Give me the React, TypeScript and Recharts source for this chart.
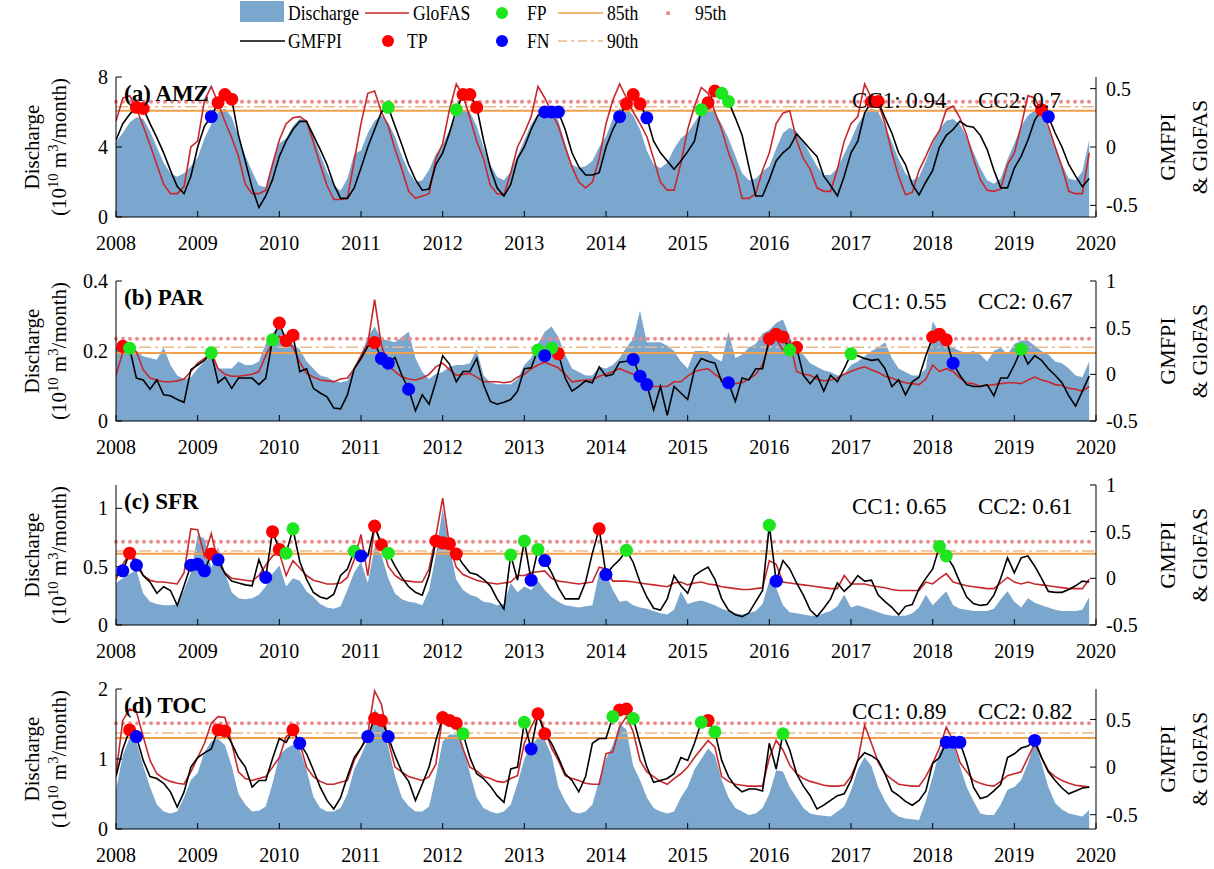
import React from 'react';
import { ComposedChart, Area, Line, Scatter, XAxis, YAxis, ReferenceLine } from 'recharts';

const YEARS = [2008, 2009, 2010, 2011, 2012, 2013, 2014, 2015, 2016, 2017, 2018, 2019, 2020];

// (a) AMZ, monthly 2008-01 .. 2019-12
const amzDischarge = [
  4.3, 4.8, 5.4, 5.7, 5.6, 4.9, 4.0, 3.1, 2.5, 2.3, 2.5, 2.9,
  3.4, 4.5, 5.3, 6.0, 6.2, 5.7, 4.6, 3.5, 2.6, 1.8, 1.7, 3.2,
  4.2, 4.5, 5.2, 5.6, 5.5, 4.6, 3.6, 2.6, 1.8, 1.5, 2.2, 3.6,
  3.8, 4.8, 5.5, 5.8, 5.4, 4.6, 3.5, 2.6, 2.0, 2.1, 2.7, 3.6,
  4.1, 5.0, 5.8, 6.1, 6.0, 5.2, 4.0, 3.0, 2.3, 2.1, 2.6, 3.5,
  4.4, 5.3, 5.9, 6.1, 6.1, 5.5, 4.2, 3.0, 2.8, 2.9, 3.2, 4.0,
  4.6, 5.6, 6.2, 6.2, 5.8, 5.0, 3.8, 3.0, 2.8, 3.1, 3.9, 4.5,
  4.8, 5.4, 6.0, 6.3, 6.0, 5.3, 4.5, 3.5, 2.5, 2.1, 2.2, 2.6,
  2.9, 3.9, 4.8, 5.1, 4.9, 4.3, 3.6, 2.9, 2.4, 2.4, 2.8, 3.6,
  4.4, 5.3, 5.9, 6.2, 6.0, 5.2, 4.3, 3.3, 2.5, 2.1, 2.3, 3.2,
  4.2, 5.0, 5.5, 5.6, 5.3, 4.6, 3.7, 2.8, 2.1, 1.9, 2.2, 3.3,
  4.2, 5.2, 5.8, 6.1, 5.9, 5.1, 4.0, 3.0, 2.2, 2.1, 2.6, 4.4,
];
const amzGmfpi = [
  0.06, 0.2, 0.28, 0.34, 0.33, 0.2, 0.08, -0.05, -0.2, -0.34, -0.4, -0.25,
  0.0, 0.18, 0.26, 0.38, 0.45, 0.41, 0.1, -0.12, -0.35, -0.52, -0.42, -0.28,
  -0.08, 0.05, 0.15, 0.22, 0.22, 0.1, -0.02, -0.15, -0.32, -0.44, -0.44, -0.35,
  -0.18, 0.0, 0.15, 0.3, 0.34, 0.18, 0.02, -0.15, -0.28, -0.37, -0.36, -0.15,
  -0.05, 0.12, 0.32, 0.45, 0.45, 0.34, 0.06, -0.18, -0.35, -0.42, -0.32, -0.1,
  0.0, 0.15, 0.27, 0.3, 0.3, 0.3, 0.15, -0.05, -0.17, -0.24, -0.24, -0.22,
  0.0, 0.15, 0.26, 0.37, 0.45, 0.37, 0.25, 0.05, -0.05, -0.12, -0.19, -0.12,
  -0.04, 0.05, 0.32, 0.38, 0.48, 0.46, 0.39, 0.25, 0.1, -0.17, -0.42, -0.42,
  -0.28, -0.12, -0.05, 0.0, 0.11, 0.05, -0.02, -0.08, -0.25, -0.33, -0.42, -0.25,
  -0.05, 0.05, 0.29, 0.39, 0.39, 0.25, 0.12, -0.05, -0.15, -0.32, -0.41, -0.3,
  -0.2, 0.0, 0.1, 0.15, 0.22, 0.18, 0.17, 0.1, -0.02, -0.2, -0.35, -0.35,
  -0.18, -0.08, 0.06, 0.23, 0.32, 0.26, 0.12, 0.0, -0.15, -0.25, -0.34, -0.27,
];
const amzGlofas = [
  0.22, 0.42, 0.44, 0.33, 0.18, 0.02, -0.15, -0.32, -0.4, -0.4, -0.34, 0.0,
  0.05, 0.4, 0.52, 0.38, 0.22, 0.08, -0.08, -0.32, -0.4, -0.4, -0.37, -0.15,
  0.06, 0.2, 0.25, 0.26, 0.22, 0.04, -0.15, -0.33, -0.45, -0.45, -0.44, -0.12,
  0.2, 0.46, 0.48, 0.3, 0.18, -0.02, -0.19, -0.38, -0.44, -0.42, -0.4, -0.1,
  0.03, 0.32, 0.54, 0.44, 0.25, 0.05, -0.1, -0.33, -0.4, -0.41, -0.22, 0.0,
  0.12, 0.26, 0.52, 0.42, 0.3, 0.18, 0.0, -0.17, -0.3, -0.35, -0.3, -0.1,
  0.2, 0.4, 0.54, 0.42, 0.3, 0.2, 0.09, -0.1, -0.3, -0.37, -0.37, -0.14,
  0.15, 0.35, 0.51, 0.46, 0.3, 0.15, -0.05, -0.2, -0.44, -0.44, -0.4, -0.2,
  -0.05, 0.2, 0.29, 0.31, 0.06, -0.1, -0.19, -0.35, -0.38, -0.38, -0.19, 0.05,
  0.2, 0.26, 0.54, 0.42, 0.38, 0.2, -0.05, -0.25, -0.41, -0.39, -0.2, -0.08,
  0.05, 0.14, 0.32, 0.35, 0.25, 0.1, -0.1, -0.28, -0.37, -0.38, -0.36, -0.15,
  -0.05, 0.18, 0.44, 0.42, 0.3, 0.18, 0.0, -0.17, -0.38, -0.4, -0.4, -0.05,
];
const amzTP = [3, 4, 15, 16, 17, 51, 52, 53, 75, 76, 77, 87, 88, 111, 112, 136];
const amzFP = [40, 50, 86, 89, 90];
const amzFN = [14, 63, 64, 65, 74, 78, 137];
const amzThresholds = [6.07, 6.3, 6.59];

// (b) PAR
const parDischarge = [
  0.19, 0.22, 0.21, 0.2, 0.185, 0.18, 0.175, 0.21, 0.16, 0.13, 0.12, 0.125,
  0.15, 0.17, 0.185, 0.15, 0.15, 0.15, 0.17, 0.16, 0.16, 0.17, 0.22, 0.25,
  0.275, 0.24, 0.22, 0.205, 0.17, 0.15, 0.13, 0.125, 0.115, 0.11, 0.115, 0.15,
  0.19, 0.24, 0.27, 0.235, 0.23, 0.225, 0.24, 0.255, 0.18, 0.14, 0.12, 0.135,
  0.14, 0.155, 0.16, 0.16, 0.165, 0.205, 0.13, 0.11, 0.105, 0.105, 0.105, 0.12,
  0.16, 0.18, 0.22, 0.255, 0.27, 0.24, 0.19, 0.15, 0.14, 0.13, 0.13, 0.155,
  0.15, 0.16, 0.18, 0.21, 0.235, 0.315, 0.225, 0.225, 0.225, 0.215, 0.2, 0.17,
  0.15, 0.2, 0.2, 0.2, 0.18, 0.17, 0.255, 0.18, 0.19, 0.21, 0.22, 0.25,
  0.26, 0.28, 0.29, 0.24, 0.2, 0.19, 0.165, 0.155, 0.145, 0.14, 0.13, 0.135,
  0.16, 0.17, 0.185, 0.2, 0.21, 0.225, 0.18, 0.15, 0.14, 0.13, 0.13, 0.15,
  0.285, 0.25, 0.22, 0.21, 0.2, 0.195, 0.2, 0.19, 0.17, 0.2, 0.21, 0.19,
  0.22, 0.23, 0.23, 0.215, 0.2, 0.19, 0.17, 0.165, 0.15, 0.13, 0.125, 0.17,
];
const parGmfpi = [
  0.27, 0.3, 0.28, -0.04, -0.06, -0.16, -0.06, -0.22, -0.23, -0.27, -0.3, 0.05,
  0.1, 0.15, 0.23, -0.09, -0.03, -0.15, -0.04, -0.04, -0.04, -0.11, -0.04, 0.37,
  0.55, 0.36, 0.42, 0.03, 0.06, -0.15, -0.2, -0.24, -0.36, -0.37, -0.22, 0.06,
  0.17, 0.3, 0.34, 0.17, 0.12, 0.18, -0.01, -0.16, -0.39, -0.22, -0.32, -0.08,
  0.2, 0.11, -0.08, 0.03, 0.03, 0.17, -0.11, -0.29, -0.32, -0.3, -0.27, -0.18,
  0.06, 0.07, 0.26, 0.2, 0.28, 0.22, -0.04, -0.18, -0.13, -0.07, -0.09, 0.08,
  -0.02, 0.0, 0.13, 0.14, 0.16, -0.02, -0.11, -0.38, -0.13, -0.44, -0.13, -0.2,
  -0.27, 0.05, 0.17, 0.14, 0.12, -0.08, -0.09, -0.29, -0.04, -0.06, 0.06, 0.06,
  0.38, 0.43, 0.4, 0.26, 0.29, -0.01, -0.1, -0.01, -0.18, -0.01, -0.08, 0.06,
  0.22, 0.2, 0.17, 0.15, 0.16, 0.06, -0.13, -0.06, -0.22, -0.08, -0.03, 0.2,
  0.4, 0.43, 0.37, 0.12, -0.01, -0.11, -0.13, -0.13, -0.11, -0.23, -0.04, -0.04,
  0.1, 0.27, 0.11, 0.2, 0.15, 0.06, -0.01, -0.09, -0.23, -0.34, -0.18, -0.02,
];
const parGlofas = [
  -0.01, 0.24, 0.31, 0.24, 0.05, -0.04, -0.06, -0.08, -0.08, -0.07, -0.05, 0.03,
  0.12, 0.17, 0.24, 0.06, 0.0, -0.02, -0.02, -0.01, 0.0, 0.03, 0.2, 0.34,
  0.41, 0.35, 0.29, 0.13, 0.01, -0.03, -0.06, -0.07, -0.08, -0.05, -0.04, 0.06,
  0.2, 0.33, 0.8, 0.31, 0.1, 0.03, -0.03, -0.05, -0.06, -0.04, 0.0, 0.08,
  0.12, 0.05, -0.01, 0.0, 0.01, -0.03, -0.08, -0.08, -0.08, -0.09, -0.08, -0.03,
  0.0, 0.06, 0.1, 0.13, 0.1, 0.07, 0.0, -0.08, -0.07, -0.06, -0.06, -0.02,
  0.0, 0.03, 0.06, 0.03, 0.0, -0.04, -0.11, -0.13, -0.13, -0.13, -0.08, -0.08,
  -0.02, 0.03, 0.05, 0.06, 0.0, -0.05, -0.09, -0.1, -0.09, -0.05, 0.0, 0.1,
  0.34, 0.38, 0.26, 0.36, 0.03, 0.0, -0.01, -0.05, -0.07, -0.06, -0.04, 0.0,
  0.03, 0.06, 0.08, 0.05, 0.02, -0.02, -0.04, -0.07, -0.09, -0.1, -0.11, -0.05,
  0.1, 0.03, 0.06, 0.03, -0.04, -0.09, -0.1, -0.13, -0.12, -0.11, -0.1, -0.09,
  -0.09, -0.1, -0.06, -0.03, -0.06, -0.08, -0.11, -0.12, -0.15, -0.16, -0.18, -0.13,
];
const parTP = [1, 24, 25, 26, 38, 65, 96, 97, 98, 100, 120, 121, 122];
const parFP = [2, 14, 23, 62, 64, 99, 108, 133];
const parFN = [39, 40, 43, 63, 76, 77, 78, 90, 123];
const parThresholds = [0.194, 0.211, 0.235];

// (c) SFR
const sfrDischarge = [
  0.36, 0.4, 0.44, 0.47, 0.27, 0.2, 0.18, 0.17, 0.17, 0.18, 0.3, 0.45,
  0.77, 0.74, 0.49, 0.67, 0.45, 0.28, 0.23, 0.22, 0.23, 0.26, 0.33, 0.44,
  0.51, 0.33, 0.4, 0.38, 0.29, 0.24, 0.18, 0.15, 0.14, 0.16, 0.3, 0.45,
  0.54, 0.36, 0.67, 0.6, 0.4, 0.27, 0.22, 0.2, 0.19, 0.17, 0.3, 0.6,
  1.0, 0.67, 0.39, 0.3, 0.26, 0.24, 0.2, 0.19, 0.17, 0.18, 0.36, 0.28,
  0.33, 0.3, 0.38, 0.3, 0.24, 0.2, 0.17, 0.16, 0.15, 0.16, 0.17, 0.45,
  0.44, 0.3, 0.2, 0.21, 0.17, 0.15, 0.14, 0.12, 0.1, 0.09, 0.13, 0.29,
  0.18, 0.2, 0.21, 0.19, 0.17, 0.14, 0.12, 0.1, 0.09, 0.1, 0.12, 0.18,
  0.38, 0.32, 0.17, 0.11, 0.1, 0.09, 0.08, 0.08, 0.1, 0.12, 0.16, 0.26,
  0.15, 0.17, 0.15, 0.13, 0.11, 0.09, 0.08, 0.08, 0.08, 0.1, 0.15, 0.26,
  0.17, 0.23, 0.29, 0.17, 0.14, 0.13, 0.12, 0.12, 0.12, 0.14, 0.22, 0.29,
  0.2, 0.15, 0.23, 0.19, 0.17, 0.15, 0.13, 0.12, 0.12, 0.12, 0.13, 0.24,
];
const sfrGmfpi = [
  0.03, 0.08, 0.27, 0.14, 0.03, -0.04, -0.16, -0.09, -0.13, -0.29, -0.08, 0.14,
  0.15, 0.08, 0.26, 0.2, 0.05, -0.03, -0.05, -0.07, -0.08, 0.2, 0.01, 0.5,
  0.31, 0.27, 0.53, 0.18, -0.01, -0.15, -0.2, -0.22, -0.17, 0.03, 0.1, 0.29,
  0.24, 0.24, 0.56, 0.36, 0.27, 0.13, 0.01, -0.09, -0.15, -0.18, 0.03, 0.4,
  0.38, 0.37, 0.26, 0.15, 0.06, 0.04, -0.01, -0.08, -0.22, -0.33, 0.25, -0.02,
  0.4, -0.02, 0.31, 0.19, 0.06, -0.1, -0.22, -0.22, -0.22, -0.04, 0.27, 0.53,
  0.04, 0.13, 0.2, 0.3, 0.17, -0.04, -0.2, -0.32, -0.34, -0.22, 0.03, -0.08,
  -0.16, 0.03, 0.08, 0.12, -0.01, -0.22, -0.34, -0.39, -0.41, -0.37, -0.25, -0.13,
  0.57, -0.03, 0.19, 0.1, -0.05, -0.18, -0.34, -0.41, -0.32, -0.22, -0.05, -0.14,
  -0.07, 0.03, -0.03, -0.02, -0.18, -0.25, -0.31, -0.39, -0.3, -0.28, -0.11, 0.0,
  0.1, 0.34, 0.24, 0.13, -0.04, -0.2, -0.27, -0.29, -0.28, -0.18, 0.0, 0.22,
  0.06, 0.22, 0.24, 0.13, 0.0, -0.14, -0.15, -0.15, -0.12, -0.08, -0.03, -0.04,
];
const sfrGlofas = [
  -0.01, 0.15, 0.27, 0.2, 0.03, -0.02, -0.04, -0.04, -0.05, -0.06, 0.06, 0.53,
  0.52, 0.24, 0.48, 0.17, 0.06, 0.0, -0.01, -0.02, -0.03, 0.03, 0.14, 0.24,
  0.27, 0.03, 0.19, 0.11, 0.03, -0.02, -0.04, -0.06, -0.06, -0.05, 0.01, 0.2,
  0.47, 0.03, 0.55, 0.38, 0.13, 0.03, -0.02, -0.03, -0.04, -0.04, 0.1, 0.45,
  0.86, 0.35, 0.12, 0.04, 0.01, -0.02, -0.04, -0.05, -0.06, -0.05, -0.04, 0.03,
  0.03, 0.06, 0.07, 0.08, 0.0, -0.03, -0.04, -0.05, -0.06, -0.05, -0.04, 0.12,
  0.1, -0.03, -0.03, -0.03, -0.04, -0.05, -0.06, -0.07, -0.08, -0.09, -0.05, -0.04,
  -0.07, -0.05, -0.04, -0.06, -0.07, -0.09, -0.1, -0.11, -0.12, -0.12, -0.11, -0.1,
  0.19, 0.15, -0.04, -0.05, -0.06, -0.07, -0.08, -0.09, -0.1, -0.11, -0.11, 0.03,
  -0.06, -0.06, -0.06, -0.08, -0.09, -0.1, -0.12, -0.13, -0.13, -0.13, -0.13, -0.04,
  -0.06, 0.0, 0.05, -0.04, -0.06, -0.08, -0.09, -0.1, -0.11, -0.11, -0.05, 0.01,
  -0.04, -0.06, -0.04, -0.06, -0.07, -0.08, -0.09, -0.1, -0.11, -0.11, -0.11, -0.01,
];
const sfrTP = [2, 14, 23, 24, 38, 39, 47, 48, 49, 50, 71];
const sfrFP = [25, 26, 35, 40, 58, 60, 62, 75, 96, 121, 122];
const sfrFN = [1, 3, 11, 12, 13, 15, 22, 36, 61, 63, 72, 97];
const sfrThresholds = [0.611, 0.634, 0.714];

// (d) TOC
const tocDischarge = [
  0.56, 1.05, 1.3, 1.25, 0.9, 0.6, 0.35, 0.25, 0.22, 0.25, 0.45, 0.7,
  0.8, 1.1, 1.25, 1.29, 1.2, 0.9, 0.5, 0.35, 0.25, 0.26, 0.32, 0.65,
  1.05, 1.15, 1.2, 1.13, 0.85, 0.46, 0.3, 0.25, 0.25, 0.3, 0.5, 0.85,
  1.05, 1.27, 1.72, 1.56, 1.18, 0.75, 0.45, 0.33, 0.25, 0.25, 0.32, 0.75,
  1.25, 1.35, 1.35, 1.18, 0.8, 0.45, 0.3, 0.25, 0.22, 0.25, 0.35, 0.65,
  1.0, 1.2, 1.3, 1.28, 1.05, 0.6, 0.4, 0.25, 0.22, 0.25, 0.35, 0.7,
  1.0, 1.2, 1.5, 1.42, 0.9, 0.7, 0.45, 0.3, 0.25, 0.22, 0.25, 0.45,
  0.6, 0.85, 1.0, 1.15, 1.05, 0.7, 0.45, 0.3, 0.25, 0.2, 0.22, 0.3,
  0.5, 0.84, 0.82, 0.6, 0.45, 0.3, 0.22, 0.2, 0.19, 0.18, 0.25, 0.32,
  0.55, 0.85, 1.03, 0.9, 0.6, 0.4, 0.25, 0.18, 0.15, 0.14, 0.13, 0.4,
  0.75, 1.1, 1.25, 1.22, 0.9, 0.6, 0.4, 0.22, 0.2, 0.2, 0.35, 0.56,
  0.6, 0.7, 0.94, 1.25, 0.94, 0.6, 0.37, 0.28, 0.22, 0.2, 0.18, 0.27,
];
const tocGmfpi = [
  -0.1, 0.19, 0.39, 0.32, 0.07, -0.1, -0.12, -0.17, -0.26, -0.42, -0.26, 0.0,
  0.1, 0.15, 0.19, 0.39, 0.38, 0.25, 0.1, 0.0, -0.21, -0.14, -0.14, 0.09,
  0.3, 0.26, 0.39, 0.25, 0.14, -0.03, -0.21, -0.35, -0.44, -0.32, -0.1, 0.1,
  0.2, 0.32, 0.51, 0.49, 0.32, 0.12, -0.05, -0.15, -0.35, -0.18, 0.0, 0.28,
  0.52, 0.49, 0.46, 0.35, 0.1, -0.07, -0.12, -0.2, -0.3, -0.37, -0.02, 0.0,
  0.47, 0.19, 0.56, 0.35, 0.25, 0.1, -0.07, -0.14, -0.26, -0.1, 0.25, 0.3,
  0.3, 0.53, 0.6, 0.61, 0.51, 0.25, 0.0, -0.16, -0.14, -0.12, -0.07, 0.1,
  0.07, 0.25, 0.47, 0.49, 0.37, 0.07, -0.1, -0.2, -0.26, -0.23, -0.23, -0.25,
  0.25, -0.02, 0.35, 0.18, -0.07, -0.2, -0.3, -0.44, -0.4, -0.35, -0.3, -0.28,
  -0.14, 0.07, 0.15, 0.12, 0.07, -0.07, -0.25, -0.3, -0.36, -0.4, -0.35, -0.25,
  0.04, 0.1, 0.26, 0.26, 0.26, 0.05, -0.21, -0.33, -0.31, -0.25, -0.18, 0.1,
  0.14, 0.2, 0.22, 0.28, 0.1, -0.05, -0.14, -0.22, -0.28, -0.25, -0.22, -0.21,
];
const tocGlofas = [
  -0.07, 0.49, 0.61, 0.58, 0.32, 0.07, -0.07, -0.12, -0.15, -0.17, -0.18, -0.05,
  0.1, 0.25, 0.46, 0.53, 0.52, 0.25, -0.05, -0.12, -0.14, -0.12, -0.1, 0.0,
  0.1, 0.32, 0.37, 0.25, 0.0, -0.1, -0.15, -0.18, -0.18, -0.16, -0.14, 0.07,
  0.2, 0.35, 0.8, 0.66, 0.28, 0.0, -0.05, -0.1, -0.12, -0.14, -0.1, 0.03,
  0.54, 0.51, 0.42, 0.19, 0.0, -0.04, -0.1, -0.12, -0.15, -0.16, -0.12, -0.09,
  0.25, 0.42, 0.56, 0.39, 0.2, 0.07, -0.09, -0.12, -0.14, -0.17, -0.18, -0.18,
  0.14, 0.16, 0.42, 0.53, 0.37, 0.07, -0.05, -0.1, -0.15, -0.18, -0.12, -0.07,
  0.0, 0.1, 0.19, 0.28, 0.21, -0.1, -0.15, -0.18, -0.19, -0.2, -0.2, -0.2,
  0.1, 0.28, 0.18, 0.02, -0.07, -0.12, -0.15, -0.17, -0.19, -0.2, -0.2, -0.19,
  -0.1, 0.07, 0.44, 0.25, 0.05, -0.07, -0.13, -0.18, -0.19, -0.2, -0.2, -0.1,
  0.04, 0.2, 0.42, 0.28, 0.05, -0.05, -0.14, -0.17, -0.19, -0.2, -0.15, -0.09,
  -0.07, -0.05, 0.1, 0.25, 0.1, -0.04, -0.1, -0.14, -0.17, -0.19, -0.2, -0.21,
];
const tocTP = [2, 15, 16, 26, 38, 39, 48, 49, 50, 62, 63, 74, 75, 87];
const tocFP = [51, 60, 73, 76, 86, 88, 98];
const tocFN = [3, 27, 37, 40, 61, 122, 123, 124, 135];
const tocThresholds = [1.3, 1.37, 1.51];

const FONT = "'Liberation Serif', 'Times New Roman', Times, serif";
const C_AREA = '#7ba7cf';
const C_GLOFAS = '#c8282c';
const C_TP = '#ff0000';
const C_FP = '#1ee61e';
const C_FN = '#0000ff';
const C_85 = '#f0a04c';
const C_90 = '#e9b98c';
const C_95 = '#ea8c8c';
const MT = 16; // chart top margin, leaves room for the top tick labels

const dotShape = (color: string) => (p: any) =>
  p.cx == null ? <g /> : <circle cx={p.cx} cy={p.cy} r={6.5} fill={color} stroke="none" />;

type PanelProps = {
  top: number;
  name: string;
  cc1: string;
  cc2: string;
  q: number[];
  g: number[];
  f: number[];
  tp: number[];
  fp: number[];
  fn: number[];
  th: number[];
  lDom: [number, number];
  lTicks: number[];
  rDom: [number, number];
  rTicks: number[];
  ccOffset: number;
};

const Panel = (p: PanelProps) => {
  const rows = p.q.map((v, i) => ({ t: 2008 + i / 12, q: v, g: p.g[i], f: p.f[i] }));
  const pts = (idx: number[]) => idx.map((i) => ({ t: 2008 + i / 12, g: p.g[i] }));
  const tick = { fontSize: 20, fill: '#000', fontFamily: FONT };
  const mid = p.top + 70;
  return (
    <>
      <div style={{ position: 'absolute', left: 0, top: p.top - MT }}>
        <ComposedChart width={1214} height={MT + 140 + 42} data={rows} margin={{ top: MT, right: 0, bottom: 0, left: 0 }}>
          <XAxis xAxisId="b" dataKey="t" type="number" domain={[2008, 2020]} ticks={YEARS} interval={0}
            height={42} tickSize={-6} tickMargin={25} tick={tick} stroke="#000" allowDataOverflow />
          <XAxis xAxisId="top" orientation="top" dataKey="t" type="number" domain={[2008, 2020]} ticks={YEARS}
            interval={0} height={0} tickSize={-6} tick={false} stroke="#000" allowDataOverflow />
          <YAxis yAxisId="L" domain={p.lDom} ticks={p.lTicks} width={116} tickSize={-6} tickMargin={14}
            tick={tick} stroke="#000" allowDataOverflow interval={0} />
          <YAxis yAxisId="R" orientation="right" domain={p.rDom} ticks={p.rTicks} width={118} tickSize={-6}
            tickMargin={16} tick={tick} stroke="#000" allowDataOverflow interval={0} />
          <Area xAxisId="b" yAxisId="L" dataKey="q" type="linear" fill={C_AREA} fillOpacity={1} stroke="none"
            isAnimationActive={false} />
          <ReferenceLine xAxisId="b" yAxisId="L" y={p.th[0]} stroke={C_85} strokeWidth={2} />
          <ReferenceLine xAxisId="b" yAxisId="L" y={p.th[1]} stroke={C_90} strokeWidth={1.5} strokeDasharray="12 4 3 4" />
          <ReferenceLine xAxisId="b" yAxisId="L" y={p.th[2]} stroke={C_95} strokeWidth={4} strokeDasharray="0 7"
            strokeLinecap="round" />
          <Line xAxisId="b" yAxisId="R" dataKey="f" type="linear" stroke={C_GLOFAS} strokeWidth={1.6} dot={false}
            isAnimationActive={false} />
          <Line xAxisId="b" yAxisId="R" dataKey="g" type="linear" stroke="#000" strokeWidth={1.6} dot={false}
            isAnimationActive={false} />
          <Scatter xAxisId="b" yAxisId="R" data={pts(p.tp)} dataKey="g" shape={dotShape(C_TP)} isAnimationActive={false} />
          <Scatter xAxisId="b" yAxisId="R" data={pts(p.fp)} dataKey="g" shape={dotShape(C_FP)} isAnimationActive={false} />
          <Scatter xAxisId="b" yAxisId="R" data={pts(p.fn)} dataKey="g" shape={dotShape(C_FN)} isAnimationActive={false} />
        </ComposedChart>
      </div>
      <div style={{ position: 'absolute', left: 124, top: p.top + 5, fontSize: 23, fontWeight: 'bold', lineHeight: '23px' }}>
        {p.name}
      </div>
      <div style={{ position: 'absolute', left: 852, top: p.top + p.ccOffset, fontSize: 23, lineHeight: '23px' }}>{p.cc1}</div>
      <div style={{ position: 'absolute', left: 978, top: p.top + p.ccOffset, fontSize: 23, lineHeight: '23px' }}>{p.cc2}</div>
      <div style={{
        position: 'absolute', left: 46 - 130, top: mid - 27, width: 260, height: 54, transform: 'rotate(-90deg)',
        textAlign: 'center', fontSize: 21, lineHeight: '27px', whiteSpace: 'nowrap',
      }}>
        <div>Discharge</div>
        <div>(10<sup style={{ fontSize: '0.7em', lineHeight: 0 }}>10</sup> m<sup style={{ fontSize: '0.7em', lineHeight: 0 }}>3</sup>/month)</div>
      </div>
      <div style={{
        position: 'absolute', left: 1184 - 100, top: mid - 32, width: 200, height: 64, transform: 'rotate(-90deg)',
        textAlign: 'center', fontSize: 22, lineHeight: '32px', whiteSpace: 'nowrap',
      }}>
        <div>GMFPI</div>
        <div>&amp; GloFAS</div>
      </div>
    </>
  );
};

const LegendText = ({ x, y, children }: { x: number; y: number; children: React.ReactNode }) => (
  <div style={{
    position: 'absolute', left: x, top: y - 12, fontSize: 22, lineHeight: '24px', whiteSpace: 'nowrap',
    transform: 'scaleX(0.8)', transformOrigin: 'left center',
  }}>{children}</div>
);

const LegendLine = ({ x1, x2, y, color, dash, width }: { x1: number; x2: number; y: number; color: string; dash?: string; width?: number }) => (
  <svg style={{ position: 'absolute', left: x1, top: y - 4 }} width={x2 - x1} height={8}>
    <line x1={0} y1={4} x2={x2 - x1} y2={4} stroke={color} strokeWidth={width || 1.6} strokeDasharray={dash} />
  </svg>
);

const LegendDot = ({ x, y, r, color }: { x: number; y: number; r: number; color: string }) => (
  <svg style={{ position: 'absolute', left: x - r, top: y - r }} width={2 * r} height={2 * r}>
    <circle cx={r} cy={r} r={r} fill={color} />
  </svg>
);

export default function App() {
  return (
    <div style={{ position: 'absolute', left: 0, top: 0, width: 1214, height: 869, background: '#fff', fontFamily: FONT, color: '#000' }}>
      {/* legend */}
      <div style={{ position: 'absolute', left: 240, top: 1, width: 44, height: 21, background: C_AREA }} />
      <LegendText x={288} y={13}>Discharge</LegendText>
      <LegendLine x1={365} x2={409} y={13} color={C_GLOFAS} />
      <LegendText x={413} y={13}>GloFAS</LegendText>
      <LegendDot x={502} y={13} r={6} color={C_FP} />
      <LegendText x={527} y={13}>FP</LegendText>
      <LegendLine x1={558} x2={603} y={13} color={C_85} />
      <LegendText x={607} y={13}>85th</LegendText>
      <LegendDot x={668} y={13} r={2.2} color={C_95} />
      <LegendText x={695} y={13}>95th</LegendText>

      <LegendLine x1={240} x2={285} y={41} color="#000" />
      <LegendText x={288} y={41}>GMFPI</LegendText>
      <LegendDot x={388} y={41} r={6} color={C_TP} />
      <LegendText x={407} y={41}>TP</LegendText>
      <LegendDot x={502} y={41} r={6} color={C_FN} />
      <LegendText x={527} y={41}>FN</LegendText>
      <LegendLine x1={558} x2={603} y={41} color={C_90} dash="9 4 3 4" />
      <LegendText x={607} y={41}>90th</LegendText>

      <Panel top={77} name="(a) AMZ" cc1="CC1: 0.94" cc2="CC2: 0.7" ccOffset={12}
        q={amzDischarge} g={amzGmfpi} f={amzGlofas} tp={amzTP} fp={amzFP} fn={amzFN} th={amzThresholds}
        lDom={[0, 8]} lTicks={[0, 4, 8]} rDom={[-0.6, 0.6]} rTicks={[-0.5, 0, 0.5]} />
      <Panel top={281} name="(b) PAR" cc1="CC1: 0.55" cc2="CC2: 0.67" ccOffset={9}
        q={parDischarge} g={parGmfpi} f={parGlofas} tp={parTP} fp={parFP} fn={parFN} th={parThresholds}
        lDom={[0, 0.4]} lTicks={[0, 0.2, 0.4]} rDom={[-0.5, 1]} rTicks={[-0.5, 0, 0.5, 1]} />
      <Panel top={485} name="(c) SFR" cc1="CC1: 0.65" cc2="CC2: 0.61" ccOffset={10}
        q={sfrDischarge} g={sfrGmfpi} f={sfrGlofas} tp={sfrTP} fp={sfrFP} fn={sfrFN} th={sfrThresholds}
        lDom={[0, 1.2]} lTicks={[0, 0.5, 1]} rDom={[-0.5, 1]} rTicks={[-0.5, 0, 0.5, 1]} />
      <Panel top={689} name="(d) TOC" cc1="CC1: 0.89" cc2="CC2: 0.82" ccOffset={11}
        q={tocDischarge} g={tocGmfpi} f={tocGlofas} tp={tocTP} fp={tocFP} fn={tocFN} th={tocThresholds}
        lDom={[0, 2]} lTicks={[0, 1, 2]} rDom={[-0.65, 0.82]} rTicks={[-0.5, 0, 0.5]} />
    </div>
  );
}
